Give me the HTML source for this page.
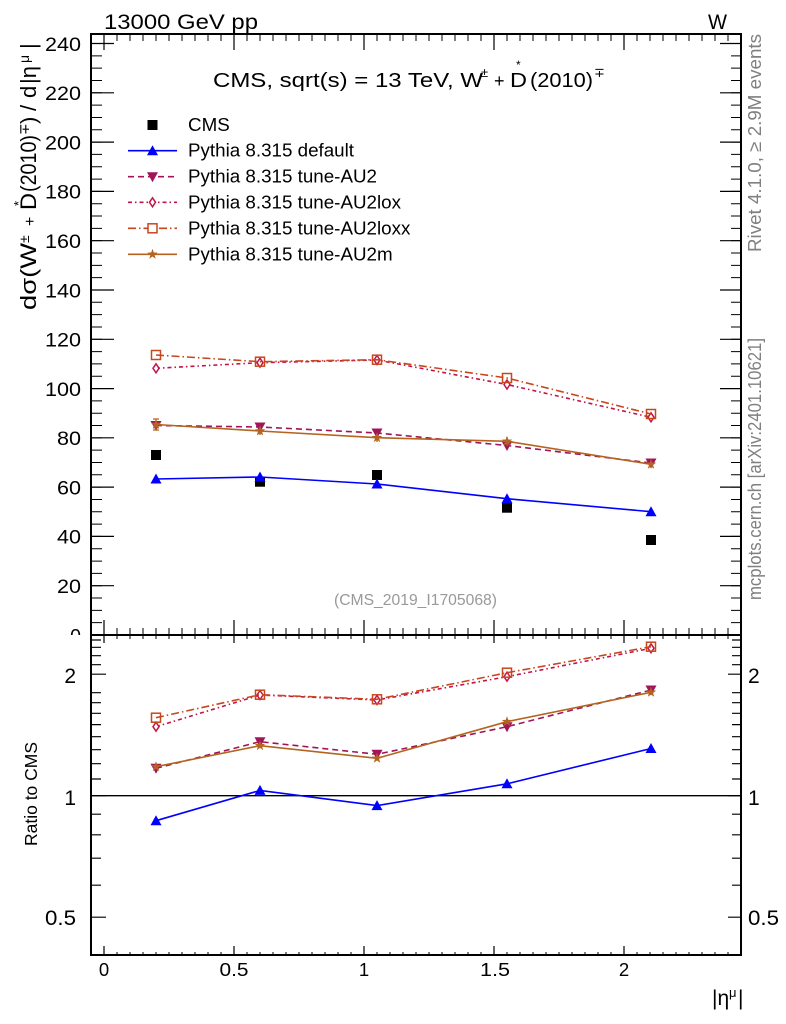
<!DOCTYPE html>
<html><head><meta charset="utf-8"><style>
html,body{margin:0;padding:0;background:#fff;}
svg{display:block;font-family:"Liberation Sans",sans-serif;}
</style></head><body>
<svg width="786" height="1024" viewBox="0 0 786 1024" xmlns="http://www.w3.org/2000/svg">
<defs>
<path id="tu" d="M0,-5.5 L5.5,4.5 L-5.5,4.5 Z"/>
<path id="td" d="M0,5.5 L5.5,-4.5 L-5.5,-4.5 Z"/>
<path id="dm" d="M0,-4.5 L3,0 L0,4.5 L-3,0 Z"/>
<rect id="sq" x="-4.5" y="-4.5" width="9" height="9"/>
<rect id="bs" x="-5" y="-5" width="10" height="10"/>
<path id="st" d="M0,-5.5 L1.29,-1.78 L5.23,-1.7 L2.09,0.68 L3.23,4.45 L0,2.2 L-3.23,4.45 L-2.09,0.68 L-5.23,-1.7 L-1.29,-1.78 Z"/>
<clipPath id="c0"><rect x="0" y="0" width="90" height="635"/></clipPath>
</defs>
<rect width="786" height="1024" fill="#fff"/>

<!-- header text -->
<text x="104" y="29" font-size="21" textLength="154" lengthAdjust="spacingAndGlyphs">13000 GeV pp</text>
<text x="708" y="29" font-size="21" textLength="19" lengthAdjust="spacingAndGlyphs">W</text>

<!-- title -->
<g font-size="20">
<text x="213" y="87" textLength="270" lengthAdjust="spacingAndGlyphs">CMS, sqrt(s) = 13 TeV, W</text>
<text x="481" y="77" font-size="13">±</text>
<text x="494" y="87" font-size="18">+</text>
<text x="510" y="87" textLength="17" lengthAdjust="spacingAndGlyphs">D</text>
<text x="516" y="69" font-size="12">*</text>
<text x="530" y="87" textLength="63" lengthAdjust="spacingAndGlyphs">(2010)</text>
<text x="594" y="77" font-size="13">∓</text>
</g>

<!-- y label main -->
<g transform="translate(36,310) rotate(-90)" font-size="22">
<text x="0" y="0" textLength="67" lengthAdjust="spacingAndGlyphs">dσ(W</text>
<text x="67" y="-7" font-size="14">±</text>
<text x="84" y="-1" font-size="16">+</text>
<text x="100" y="0" textLength="17" lengthAdjust="spacingAndGlyphs">D</text>
<text x="104" y="-13" font-size="13">*</text>
<text x="118" y="0" textLength="57" lengthAdjust="spacingAndGlyphs">(2010)</text>
<text x="175" y="-7" font-size="14">∓</text>
<text x="186" y="0">)</text>
<text x="199" y="0">/</text>
<text x="212" y="0">d</text>
<text x="226" y="0">|η</text>
<text x="247" y="-7" font-size="14">μ</text>
<text x="261" y="0">|</text>
</g>

<!-- ratio label -->
<g transform="translate(37,846) rotate(-90)">
<text x="0" y="0" font-size="17.5" textLength="104" lengthAdjust="spacingAndGlyphs">Ratio to CMS</text>
</g>

<!-- right side rotated texts -->
<g fill="#808080" font-size="18.5">
<text transform="translate(761,252) rotate(-90)" x="0" y="0" textLength="218" lengthAdjust="spacingAndGlyphs">Rivet 4.1.0, ≥ 2.9M events</text>
<text transform="translate(761,600) rotate(-90)" x="0" y="0" textLength="262" lengthAdjust="spacingAndGlyphs">mcplots.cern.ch [arXiv:2401.10621]</text>
</g>

<!-- analysis name -->
<text x="334" y="605" font-size="15.7" fill="#999" textLength="163" lengthAdjust="spacingAndGlyphs">(CMS_2019_I1705068)</text>

<!-- main y tick labels -->
<g font-size="19.5" text-anchor="end">
<text x="81" y="50.8" textLength="36" lengthAdjust="spacingAndGlyphs">240</text>
<text x="81" y="100.1" textLength="36" lengthAdjust="spacingAndGlyphs">220</text>
<text x="81" y="149.4" textLength="36" lengthAdjust="spacingAndGlyphs">200</text>
<text x="81" y="198.7" textLength="36" lengthAdjust="spacingAndGlyphs">180</text>
<text x="81" y="248" textLength="36" lengthAdjust="spacingAndGlyphs">160</text>
<text x="81" y="297.3" textLength="36" lengthAdjust="spacingAndGlyphs">140</text>
<text x="81" y="346.6" textLength="36" lengthAdjust="spacingAndGlyphs">120</text>
<text x="81" y="395.9" textLength="36" lengthAdjust="spacingAndGlyphs">100</text>
<text x="81" y="445.1" textLength="24" lengthAdjust="spacingAndGlyphs">80</text>
<text x="81" y="494.4" textLength="24" lengthAdjust="spacingAndGlyphs">60</text>
<text x="81" y="543.7" textLength="24" lengthAdjust="spacingAndGlyphs">40</text>
<text x="81" y="593" textLength="24" lengthAdjust="spacingAndGlyphs">20</text>
<text x="81" y="642.3" clip-path="url(#c0)">0</text>
</g>

<!-- ratio tick labels -->
<g font-size="21">
<text x="76" y="683" text-anchor="end">2</text>
<text x="76" y="805" text-anchor="end">1</text>
<text x="76" y="925" text-anchor="end" textLength="31" lengthAdjust="spacingAndGlyphs">0.5</text>
<text x="748" y="683">2</text>
<text x="748" y="805">1</text>
<text x="748" y="925" textLength="31" lengthAdjust="spacingAndGlyphs">0.5</text>
</g>

<!-- x tick labels -->
<g font-size="18.5" text-anchor="middle">
<text x="104" y="976">0</text>
<text x="234" y="976" textLength="29" lengthAdjust="spacingAndGlyphs">0.5</text>
<text x="364" y="976">1</text>
<text x="495" y="976" textLength="30" lengthAdjust="spacingAndGlyphs">1.5</text>
<text x="624" y="976">2</text>
</g>

<!-- x axis label -->
<text x="712" y="1005" font-size="21">|η</text>
<text x="729" y="997" font-size="13">μ</text>
<text x="738" y="1005" font-size="21">|</text>

<!-- ticks -->
<g stroke="#000" fill="none">
<line x1="103.5" y1="37.5" x2="741" y2="37.5" stroke-width="7" stroke-dasharray="1 12"/>
<line x1="103.5" y1="631.5" x2="741" y2="631.5" stroke-width="7" stroke-dasharray="1 12"/>
<line x1="103.5" y1="637" x2="741" y2="637" stroke-width="4" stroke-dasharray="1 12"/>
<line x1="103.5" y1="953.5" x2="741" y2="953.5" stroke-width="3" stroke-dasharray="1 12"/>
<line x1="96.5" y1="635.5" x2="96.5" y2="40" stroke-width="11" stroke-dasharray="1 11.3225"/>
<line x1="736" y1="635.5" x2="736" y2="40" stroke-width="10" stroke-dasharray="1 11.3225"/>
<g stroke-width="1.2">
<path d="M104 34v16M234 34v16M364 34v16M494 34v16M624 34v16"/>
<path d="M104 635v-15M234 635v-15M364 635v-15M494 635v-15M624 635v-15"/>
<path d="M104 635v8M234 635v8M364 635v8M494 635v8M624 635v8"/>
<path d="M104 955v-9M234 955v-9M364 955v-9M494 955v-9M624 955v-9"/>
<path d="M91 635h23M91 585.7h23M91 536.4h23M91 487.1h23M91 437.8h23M91 388.6h23M91 339.3h23M91 290h23M91 240.7h23M91 191.4h23M91 142.1h23M91 92.8h23M91 43.5h23"/>
<path d="M741 635h-21M741 585.7h-21M741 536.4h-21M741 487.1h-21M741 437.8h-21M741 388.6h-21M741 339.3h-21M741 290h-21M741 240.7h-21M741 191.4h-21M741 142.1h-21M741 92.8h-21M741 43.5h-21"/>
<path d="M91 917.2h15M91 795.7h15M91 674.2h15"/>
<path d="M91 885.2h10M91 858.2h10M91 834.8h10M91 814.2h10M91 779h10M91 763.7h10M91 749.7h10M91 736.7h10M91 724.6h10M91 713.3h10M91 702.7h10M91 692.7h10M91 664.7h10M91 655.7h10M91 647.3h10M91 640h10"/>
<path d="M741 917.2h-13M741 795.7h-13M741 674.2h-13"/>
<path d="M741 885.2h-9M741 858.2h-9M741 834.8h-9M741 814.2h-9M741 779h-9M741 763.7h-9M741 749.7h-9M741 736.7h-9M741 724.6h-9M741 713.3h-9M741 702.7h-9M741 692.7h-9M741 664.7h-9M741 655.7h-9M741 647.3h-9M741 640h-9"/>
</g>
</g>

<line x1="91" y1="795.7" x2="741" y2="795.7" stroke="#000" stroke-width="1.3"/>

<!-- ===== MAIN PLOT DATA ===== -->
<g fill="#000">
<use href="#bs" x="156" y="455"/>
<use href="#bs" x="260" y="481.7"/>
<use href="#bs" x="377" y="475"/>
<use href="#bs" x="507" y="507.7"/>
<use href="#bs" x="651" y="540"/>
</g>

<polyline points="156,479 260,477 377,484 507,498.7 651,511.7" fill="none" stroke="#0000ff" stroke-width="1.6"/>
<g fill="#0000ff">
<use href="#tu" x="156" y="479"/><use href="#tu" x="260" y="477"/><use href="#tu" x="377" y="484"/><use href="#tu" x="507" y="498.7"/><use href="#tu" x="651" y="511.7"/>
</g>

<polyline points="156,425.5 260,427 377,433 507,445.5 651,463" fill="none" stroke="#a1145a" stroke-width="1.6" stroke-dasharray="6 4"/>
<g fill="#a1145a">
<use href="#td" x="156" y="425.5"/><use href="#td" x="260" y="427"/><use href="#td" x="377" y="433"/><use href="#td" x="507" y="445.5"/><use href="#td" x="651" y="463"/>
</g>

<polyline points="156,368.3 260,362.7 377,360 507,384.5 651,417.3" fill="none" stroke="#c31446" stroke-width="1.6" stroke-dasharray="4 3 1.5 3"/>
<g fill="#fff" stroke="#c31446" stroke-width="1.5">
<use href="#dm" x="156" y="368.3"/><use href="#dm" x="260" y="362.7"/><use href="#dm" x="377" y="360"/><use href="#dm" x="507" y="384.5"/><use href="#dm" x="651" y="417.3"/>
</g>

<polyline points="156,355 260,361.7 377,359.7 507,378 651,414" fill="none" stroke="#c8461e" stroke-width="1.6" stroke-dasharray="8 3 1.5 3"/>
<g fill="none" stroke="#c8461e" stroke-width="1.5">
<use href="#sq" x="156" y="355"/><use href="#sq" x="260" y="361.7"/><use href="#sq" x="377" y="359.7"/><use href="#sq" x="507" y="378"/><use href="#sq" x="651" y="414"/>
</g>

<polyline points="156,424.5 260,431 377,437.7 507,441.3 651,464.3" fill="none" stroke="#b4641e" stroke-width="1.6"/>
<path d="M156 419v11M153 419h6M153 430h6M260 427v8M507 437v9M377 434v8" stroke="#b4641e" stroke-width="1.3" fill="none"/>
<g fill="#b4641e">
<use href="#st" x="156" y="424.5"/><use href="#st" x="260" y="431"/><use href="#st" x="377" y="437.7"/><use href="#st" x="507" y="441.3"/><use href="#st" x="651" y="464.3"/>
</g>

<!-- ===== RATIO PLOT DATA ===== -->
<polyline points="156,820.7 260,790.4 377,805.6 507,783.8 651,748.5" fill="none" stroke="#0000ff" stroke-width="1.6"/>
<g fill="#0000ff">
<use href="#tu" x="156" y="820.7"/><use href="#tu" x="260" y="790.4"/><use href="#tu" x="377" y="805.6"/><use href="#tu" x="507" y="783.8"/><use href="#tu" x="651" y="748.5"/>
</g>

<polyline points="156,768.3 260,741.7 377,754.3 507,726.7 651,690" fill="none" stroke="#a1145a" stroke-width="1.6" stroke-dasharray="6 4"/>
<g fill="#a1145a">
<use href="#td" x="156" y="768.3"/><use href="#td" x="260" y="741.7"/><use href="#td" x="377" y="754.3"/><use href="#td" x="507" y="726.7"/><use href="#td" x="651" y="690"/>
</g>

<polyline points="156,726.7 260,695 377,700 507,676.7 651,648.3" fill="none" stroke="#c31446" stroke-width="1.6" stroke-dasharray="4 3 1.5 3"/>
<g fill="#fff" stroke="#c31446" stroke-width="1.5">
<use href="#dm" x="156" y="726.7"/><use href="#dm" x="260" y="695"/><use href="#dm" x="377" y="700"/><use href="#dm" x="507" y="676.7"/><use href="#dm" x="651" y="648.3"/>
</g>

<polyline points="156,717.7 260,694.7 377,699.3 507,672.7 651,646.7" fill="none" stroke="#c8461e" stroke-width="1.6" stroke-dasharray="8 3 1.5 3"/>
<g fill="none" stroke="#c8461e" stroke-width="1.5">
<use href="#sq" x="156" y="717.7"/><use href="#sq" x="260" y="694.7"/><use href="#sq" x="377" y="699.3"/><use href="#sq" x="507" y="672.7"/><use href="#sq" x="651" y="646.7"/>
</g>

<polyline points="156,766.7 260,745.7 377,758.3 507,721.7 651,692.3" fill="none" stroke="#b4641e" stroke-width="1.6"/>
<g fill="#b4641e">
<use href="#st" x="156" y="766.7"/><use href="#st" x="260" y="745.7"/><use href="#st" x="377" y="758.3"/><use href="#st" x="507" y="721.7"/><use href="#st" x="651" y="692.3"/>
</g>

<!-- ===== LEGEND ===== -->
<use href="#bs" x="152.5" y="125" fill="#000"/>
<line x1="128" y1="150.7" x2="177" y2="150.7" stroke="#0000ff" stroke-width="1.6"/>
<use href="#tu" x="152.5" y="150.7" fill="#0000ff"/>
<line x1="128" y1="176.7" x2="177" y2="176.7" stroke="#a1145a" stroke-width="1.6" stroke-dasharray="6 4"/>
<use href="#td" x="152.5" y="176.7" fill="#a1145a"/>
<line x1="128" y1="202.3" x2="177" y2="202.3" stroke="#c31446" stroke-width="1.6" stroke-dasharray="4 3 1.5 3"/>
<use href="#dm" x="152.5" y="202.3" fill="#fff" stroke="#c31446" stroke-width="1.5"/>
<line x1="128" y1="228.3" x2="177" y2="228.3" stroke="#c8461e" stroke-width="1.6" stroke-dasharray="8 3 1.5 3"/>
<use href="#sq" x="152.5" y="228.3" fill="#fff" stroke="#c8461e" stroke-width="1.5"/>
<line x1="128" y1="254.3" x2="177" y2="254.3" stroke="#b4641e" stroke-width="1.6"/>
<use href="#st" x="152.5" y="254.3" fill="#b4641e"/>
<g font-size="18.8">
<text x="188" y="131">CMS</text>
<text x="188" y="156.5">Pythia 8.315 default</text>
<text x="188" y="182.5">Pythia 8.315 tune-AU2</text>
<text x="188" y="208.5">Pythia 8.315 tune-AU2lox</text>
<text x="188" y="234.5">Pythia 8.315 tune-AU2loxx</text>
<text x="188" y="260.5">Pythia 8.315 tune-AU2m</text>
</g>

<!-- frames -->
<rect x="91" y="34" width="650" height="601" fill="none" stroke="#000" stroke-width="2"/>
<rect x="91" y="635" width="650" height="320" fill="none" stroke="#000" stroke-width="2"/>
</svg>
</body></html>
